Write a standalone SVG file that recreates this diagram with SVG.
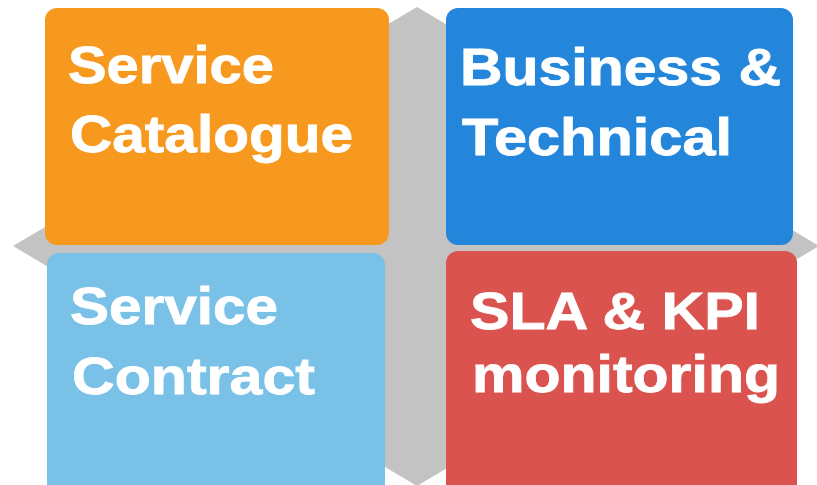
<svg xmlns="http://www.w3.org/2000/svg" width="817" height="485" viewBox="0 0 817 485">
<style>
.t{font-family:"Liberation Sans",Arial,sans-serif;font-weight:bold;font-size:52px;fill:#fff;stroke:#fff;stroke-width:0.8}
</style>
<rect width="817" height="485" fill="#fff"/>
<g id="bg"><polygon points="13,246 417,7 819,246 417,486" fill="#c3c3c3"/></g>
<g id="catalogue">
<rect x="45" y="8" width="344" height="237" rx="12" fill="#f7991e"/>
<text class="t" x="68" y="83" textLength="206" lengthAdjust="spacingAndGlyphs">Service</text>
<text class="t" x="70" y="152" textLength="283" lengthAdjust="spacingAndGlyphs">Catalogue</text>
</g>
<g id="business">
<rect x="446" y="8" width="347" height="237" rx="12" fill="#2386db"/>
<text class="t" x="460" y="85" textLength="321" lengthAdjust="spacingAndGlyphs">Business &amp;</text>
<text class="t" x="462" y="155" textLength="270" lengthAdjust="spacingAndGlyphs">Technical</text>
</g>
<g id="contract">
<rect x="47" y="253" width="338" height="245" rx="12" fill="#79c1e6"/>
<text class="t" x="70" y="324" textLength="208" lengthAdjust="spacingAndGlyphs">Service</text>
<text class="t" x="72" y="394" textLength="243" lengthAdjust="spacingAndGlyphs">Contract</text>
</g>
<g id="sla">
<rect x="446" y="251" width="351" height="247" rx="12" fill="#da534f"/>
<text class="t" x="470" y="329" textLength="290" lengthAdjust="spacingAndGlyphs">SLA &amp; KPI</text>
<text class="t" x="472" y="392" textLength="308" lengthAdjust="spacingAndGlyphs">monitoring</text>
</g>
<g id="connectors"/>
</svg>
